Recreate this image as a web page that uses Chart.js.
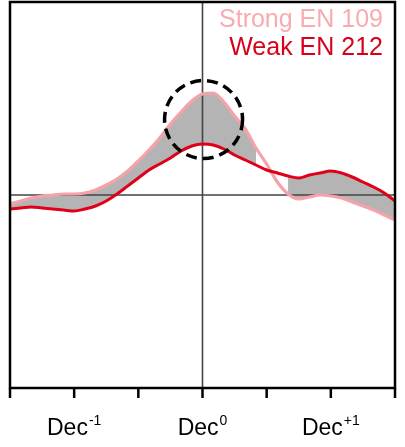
<!DOCTYPE html>
<html>
<head>
<meta charset="utf-8">
<script src="https://cdn.jsdelivr.net/npm/chart.js@4.4.1/dist/chart.umd.min.js"></script>
<style>
  html, body { margin: 0; padding: 0; background: #fff; }
  #wrap { width: 405px; height: 447px; }
</style>
</head>
<body>
<div id="wrap"><canvas id="myChart" width="405" height="447"></canvas></div>
<script>
// months relative to Dec of the event year (Dec0)
var months = [-18, -17, -16, -15, -14, -13, -12, -11, -10, -9, -8, -7, -6, -5, -4, -3, -2, -1,
  0, 1, 2, 3, 4, 5, 6, 7, 8, 9, 10, 11, 12, 13, 14, 15, 16, 17, 18];

var strongEN = [-0.09, -0.06, -0.03, -0.01, 0.00, 0.01, 0.01, 0.02, 0.05, 0.10, 0.16, 0.24, 0.34,
  0.45, 0.57, 0.71, 0.83, 0.94, 1.01, 1.02, 0.93, 0.79, 0.66, 0.47, 0.31, 0.13, 0.01, -0.04,
  -0.02, 0.00, -0.01, -0.03, -0.07, -0.11, -0.15, -0.20, -0.25];

var weakEN = [-0.14, -0.13, -0.12, -0.13, -0.14, -0.15, -0.16, -0.14, -0.11, -0.06, 0.01, 0.09, 0.17,
  0.25, 0.31, 0.37, 0.44, 0.49, 0.51, 0.50, 0.46, 0.40, 0.35, 0.30, 0.25, 0.22, 0.19, 0.17,
  0.20, 0.22, 0.24, 0.22, 0.18, 0.13, 0.08, 0.02, -0.06];

// 1 = difference shaded, 0 = not shaded
var significant = [1, 1, 1, 1, 1, 1, 1, 1, 1, 1, 1, 1, 1, 1, 1, 1, 1, 1,
  1, 1, 1, 1, 1, 1, 0, 0, 1, 1, 1, 1, 1, 1, 1, 1, 1, 1, 1];

var tickMonths = [-18, -12, -6, 0, 6, 12, 18];
var labelMonths = [-12, 0, 12];
var labelSups = ['-1', '0', '+1'];
var seriesNames = ['Strong EN 109', 'Weak EN 212'];
var circleCentre = { x: 0.1, y: 0.755 };

var pink = '#f6a2aa';
var red = '#e0001a';

function pts(vals, mask) {
  return months.map(function (m, i) {
    return { x: m, y: (mask && !mask[i]) ? null : vals[i] };
  });
}

var panelDecor = {
  id: 'panelDecor',
  beforeDatasetsDraw: function (chart) {
    var ctx = chart.ctx, a = chart.chartArea;
    var x0 = chart.scales.x.getPixelForValue(0);
    var y0 = chart.scales.y.getPixelForValue(0);
    ctx.save();
    ctx.strokeStyle = '#444';
    ctx.lineWidth = 1.6;
    ctx.beginPath();
    ctx.moveTo(x0, a.top); ctx.lineTo(x0, a.bottom);
    ctx.moveTo(a.left, y0); ctx.lineTo(a.right, y0);
    ctx.stroke();
    ctx.restore();
  },
  afterDraw: function (chart) {
    var ctx = chart.ctx, a = chart.chartArea;
    var xs = chart.scales.x, ys = chart.scales.y;
    ctx.save();

    // dashed circle
    ctx.strokeStyle = '#000';
    ctx.lineWidth = 3.5;
    ctx.setLineDash([11, 6]);
    ctx.beginPath();
    ctx.arc(xs.getPixelForValue(circleCentre.x), ys.getPixelForValue(circleCentre.y), 39, 0, Math.PI * 2);
    ctx.stroke();
    ctx.setLineDash([]);

    // frame and ticks
    ctx.lineWidth = 2.5;
    ctx.strokeRect(a.left, a.top, a.right - a.left, a.bottom - a.top);
    ctx.beginPath();
    tickMonths.forEach(function (m) {
      var px = xs.getPixelForValue(m);
      ctx.moveTo(px, a.bottom);
      ctx.lineTo(px, a.bottom + 10);
    });
    ctx.stroke();

    // tick labels with superscripts
    ctx.fillStyle = '#000';
    ctx.textAlign = 'left';
    ctx.textBaseline = 'alphabetic';
    labelMonths.forEach(function (m, i) {
      ctx.font = '23px "Liberation Sans", Arial, sans-serif';
      var wMain = ctx.measureText('Dec').width;
      ctx.font = '14px "Liberation Sans", Arial, sans-serif';
      var wSup = ctx.measureText(labelSups[i]).width;
      var start = xs.getPixelForValue(m) - (wMain + 1 + wSup) / 2;
      ctx.font = '23px "Liberation Sans", Arial, sans-serif';
      ctx.fillText('Dec', start, a.bottom + 47);
      ctx.font = '14px "Liberation Sans", Arial, sans-serif';
      ctx.fillText(labelSups[i], start + wMain + 1, a.bottom + 37);
    });

    // series names, top right
    ctx.textAlign = 'right';
    ctx.font = '25px "Liberation Sans", Arial, sans-serif';
    ctx.fillStyle = '#f9abb2';
    ctx.fillText(seriesNames[0], a.right - 12, a.top + 25);
    ctx.fillStyle = '#d8001a';
    ctx.fillText(seriesNames[1], a.right - 12, a.top + 53);

    ctx.restore();
  }
};

var ctx = document.getElementById('myChart').getContext('2d');
var myChart = new Chart(ctx, {
  type: 'line',
  data: {
    datasets: [{
      label: seriesNames[1],
      data: pts(weakEN),
      borderColor: red,
      borderWidth: 3,
      fill: false
    }, {
      label: seriesNames[0],
      data: pts(strongEN),
      borderColor: pink,
      borderWidth: 3.2,
      fill: false
    }, {
      label: 'shade top',
      data: pts(strongEN, significant),
      borderWidth: 0,
      borderColor: 'rgba(0,0,0,0)',
      backgroundColor: '#b4b4b4',
      fill: '+1'
    }, {
      label: 'shade bottom',
      data: pts(weakEN, significant),
      borderWidth: 0,
      borderColor: 'rgba(0,0,0,0)',
      fill: false
    }]
  },
  options: {
    responsive: false,
    animation: false,
    events: [],
    elements: { point: { radius: 0 }, line: { cubicInterpolationMode: 'monotone' } },
    layout: { padding: { left: 10, right: 10, top: 2, bottom: 59 } },
    scales: {
      x: { type: 'linear', min: -18, max: 18, display: false },
      y: { min: -1.93, max: 1.93, display: false }
    },
    plugins: {
      legend: { display: false },
      tooltip: { enabled: false },
      filler: { drawTime: 'beforeDatasetsDraw' }
    }
  },
  plugins: [panelDecor]
});
</script>
</body>
</html>
